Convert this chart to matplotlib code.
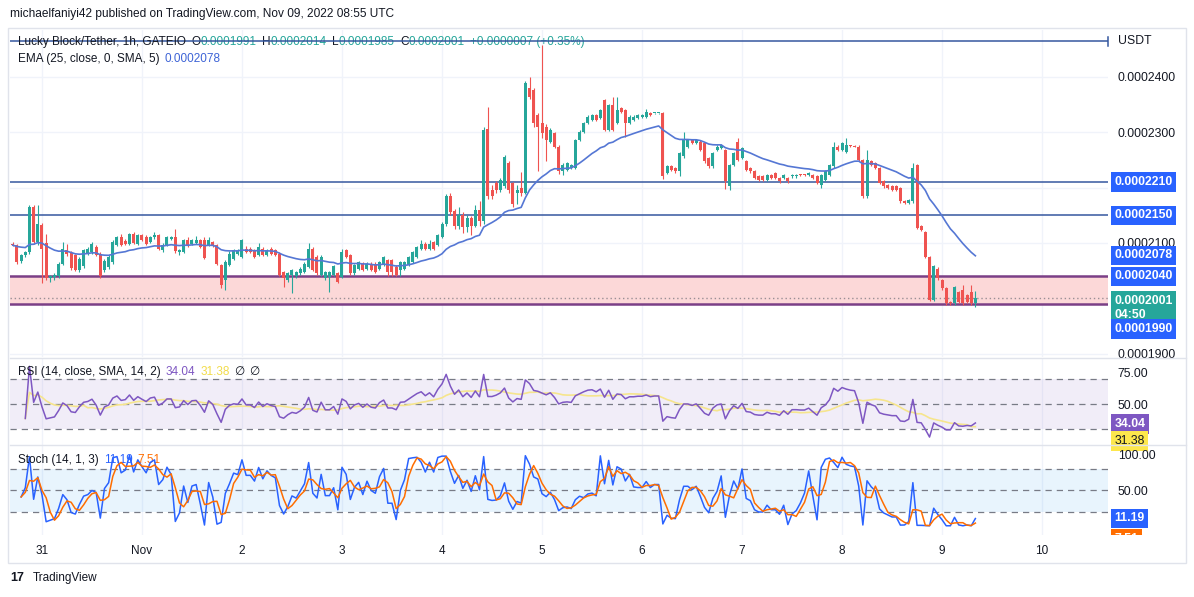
import numpy as np
import pandas as pd
import matplotlib
matplotlib.use("Agg")
import matplotlib.pyplot as plt
from matplotlib.transforms import Bbox, TransformedBbox, blended_transform_factory
from matplotlib.patches import Rectangle
from matplotlib.lines import Line2D

plt.rcParams['font.family'] = ['Liberation Sans', 'DejaVu Sans']

# ---------------- data (prices in units of 1e-7 USDT) ----------------
opens = [
    2099,2096,2068,2078,2083,2165,2102,2132,2100,2036,2038,2040,
    2063,2088,2082,2078,2052,2058,2080,2084,2093,2081,2051,2057,
    2066,2096,2111,2103,2098,2117,2099,2114,2110,2102,2110,2114,
    2087,2096,2107,2110,2083,2084,2105,2098,2100,2106,2105,2097,
    2102,2096,2060,2033,2060,2072,2080,2075,2090,2090,2087,2078,
    2090,2078,2090,2087,2081,2048,2033,2042,2040,2045,2048,2057,
    2090,2075,2042,2036,2039,2042,2045,2039,2087,2078,2045,2054,
    2063,2054,2063,2063,2054,2060,2069,2069,2057,2051,2054,2060,
    2066,2075,2090,2099,2090,2102,2096,2111,2135,2185,2158,2130,
    2150,2128,2145,2130,2160,2140,2305,2195,2208,2196,2202,2244,
    2208,2190,2200,2190,2379,2376,2331,2316,2310,2283,2298,2274,
    2229,2232,2235,2235,2286,2301,2316,2322,2331,2325,2358,2304,
    2349,2316,2343,2340,2316,2322,2325,2328,2328,2334,2334,2334,
    2334,2226,2238,2235,2229,2256,2274,2286,2280,2283,2280,2253,
    2238,2268,2271,2268,2202,2241,2283,2253,2247,2235,2229,2220,
    2220,2214,2223,2226,2217,2217,2217,2220,2220,2223,2223,2222,
    2223,2220,2205,2214,2223,2238,2274,2268,2265,2276,2275,2274,
    2250,2184,2247,2244,2235,2211,2205,2202,2202,2199,2176,2173,
    2175,2241,2130,2120,2075,1997,2054,2033,2018,1993,1991,2012,2015,2006,2012,1991,
]
highs = [
    2101,2098,2080,2086,2168,2168,2168,2136,2117,2043,2046,2066,
    2102,2098,2085,2081,2075,2090,2093,2101,2097,2083,2071,2078,
    2105,2113,2116,2108,2118,2120,2117,2116,2115,2113,2120,2116,
    2100,2112,2113,2126,2090,2108,2110,2108,2112,2108,2110,2110,
    2104,2098,2062,2070,2085,2090,2089,2108,2095,2093,2090,2100,
    2093,2089,2093,2090,2083,2050,2047,2053,2050,2056,2065,2100,
    2093,2078,2078,2050,2050,2060,2048,2090,2090,2080,2062,2068,
    2066,2065,2066,2066,2068,2077,2072,2072,2060,2067,2068,2077,
    2086,2095,2106,2101,2106,2104,2117,2137,2188,2190,2162,2165,
    2155,2150,2148,2168,2175,2310,2346,2205,2212,2218,2258,2248,
    2210,2205,2228,2392,2400,2380,2335,2457,2315,2308,2300,2276,
    2244,2246,2243,2288,2303,2318,2330,2333,2333,2342,2360,2351,
    2364,2364,2345,2342,2330,2330,2333,2333,2342,2336,2335,2335,
    2336,2240,2240,2237,2264,2301,2288,2288,2288,2285,2282,2255,
    2264,2276,2279,2270,2243,2264,2290,2273,2249,2237,2231,2222,
    2222,2225,2225,2228,2219,2225,2219,2225,2225,2224,2224,2228,
    2225,2222,2225,2231,2243,2283,2276,2282,2289,2277,2276,2276,
    2252,2268,2249,2246,2237,2213,2207,2204,2204,2201,2178,2180,
    2244,2243,2132,2122,2077,2060,2056,2035,2020,1996,2023,2014,2024,2008,2025,2014,
]
lows = [
    2094,2062,2064,2074,2080,2098,2097,2028,2034,2030,2033,2037,
    2060,2077,2052,2050,2048,2055,2078,2080,2076,2037,2048,2054,
    2063,2094,2094,2096,2096,2098,2097,2104,2097,2100,2108,2088,
    2084,2094,2105,2082,2078,2082,2092,2096,2098,2091,2072,2095,
    2093,2060,2018,2015,2058,2070,2078,2073,2082,2082,2073,2076,
    2076,2076,2079,2076,2040,2021,2030,2009,2037,2043,2046,2055,
    2049,2043,2040,2034,2012,2040,2028,2037,2073,2043,2043,2052,
    2049,2052,2049,2046,2052,2058,2040,2040,2040,2040,2052,2058,
    2064,2073,2088,2088,2088,2088,2094,2109,2130,2150,2125,2125,
    2118,2120,2115,2128,2130,2135,2180,2180,2190,2192,2200,2190,
    2165,2170,2185,2188,2360,2310,2229,2290,2247,2280,2272,2225,
    2222,2230,2233,2233,2284,2299,2314,2320,2320,2323,2302,2302,
    2302,2314,2335,2292,2314,2320,2323,2326,2326,2329,2333,2333,
    2215,2224,2230,2227,2220,2254,2272,2278,2278,2266,2245,2236,
    2236,2266,2269,2198,2195,2239,2248,2251,2230,2227,2215,2212,
    2212,2212,2215,2215,2209,2215,2209,2218,2218,2221,2221,2220,
    2215,2206,2200,2212,2221,2236,2266,2266,2263,2274,2273,2248,
    2182,2182,2239,2233,2206,2200,2197,2194,2194,2173,2171,2171,
    2173,2125,2122,2073,1995,1995,2034,2016,1989,1989,1989,1992,1989,1992,1989,1985,
]
closes = [
    2096,2066,2078,2083,2165,2102,2135,2090,2037,2040,2043,2063,
    2090,2080,2055,2052,2071,2087,2090,2098,2079,2040,2068,2075,
    2102,2111,2096,2099,2117,2100,2114,2106,2099,2111,2114,2090,
    2097,2110,2110,2085,2087,2105,2094,2105,2106,2093,2073,2105,
    2094,2062,2024,2066,2081,2087,2085,2105,2084,2084,2075,2093,
    2078,2087,2081,2078,2042,2036,2045,2051,2048,2054,2063,2090,
    2051,2045,2075,2048,2048,2058,2030,2084,2075,2045,2060,2066,
    2051,2063,2051,2048,2066,2075,2048,2048,2042,2065,2066,2075,
    2084,2093,2099,2090,2099,2090,2114,2135,2185,2155,2130,2150,
    2128,2145,2130,2160,2140,2304,2185,2185,2196,2214,2255,2196,
    2170,2195,2190,2388,2364,2316,2310,2298,2286,2304,2274,2229,
    2241,2244,2241,2286,2301,2316,2328,2331,2322,2340,2304,2349,
    2304,2340,2337,2316,2328,2328,2331,2331,2337,2331,2334,2334,
    2220,2238,2232,2229,2262,2286,2286,2280,2286,2268,2247,2238,
    2262,2274,2277,2211,2241,2262,2250,2271,2232,2229,2217,2214,
    2214,2223,2217,2217,2211,2223,2211,2223,2223,2222,2222,2226,
    2217,2208,2223,2229,2241,2274,2268,2280,2277,2275,2274,2250,
    2184,2250,2241,2235,2208,2202,2199,2196,2196,2175,2173,2178,
    2235,2127,2124,2075,1997,2058,2036,2018,1991,1991,2021,1994,1991,1994,1991,2001,
]
UNIT = 1e-7
day_labels = ["31", "Nov", "2", "3", "4", "5", "6", "7", "8", "9", "10"]
first_day_offset = 7          # hours from first candle to Oct 31 00:00
level_lines = [2464, 2210, 2150]      # drawn horizontal lines
zone = (1990, 2040)                    # support zone
last_price = 2001
ema_last = 2078
rsi_last, rsi_ma_last = 34.04, 31.38
stoch_k_last, stoch_d_last = 11.19, 7.51
price_ticks = [1900, 2000, 2100, 2200, 2300, 2400]
price_tick_shown = [1900, 2100, 2300, 2400]
header_ohlc = [("O", "0.0001991"), ("H", "0.0002014"), ("L", "0.0001985"),
               ("C", "0.0002001"), ("", "+0.0000007 (+0.35%)")]

# ---------------- derived series ----------------
O = np.array(opens) * UNIT
Hh = np.array(highs) * UNIT
Lw = np.array(lows) * UNIT
C = np.array(closes) * UNIT
t = np.arange(len(C))
cs = pd.Series(C)
ema = cs.ewm(span=25, adjust=False).mean()
delta = cs.diff()
up = delta.clip(lower=0)
dn = -delta.clip(upper=0)
rs = up.ewm(alpha=1/14, adjust=True).mean() / dn.ewm(alpha=1/14, adjust=True).mean()
rsi = 100 - 100 / (1 + rs)
rsi[:3] = np.nan
rsi_ma = rsi.rolling(14, min_periods=1).mean()
ll = pd.Series(Lw).rolling(14, min_periods=1).min()
hh = pd.Series(Hh).rolling(14, min_periods=1).max()
stk = 100 * (cs - ll) / (hh - ll)
stk[:2] = np.nan
std = stk.rolling(3, min_periods=1).mean()

# ---------------- layout ----------------
W, H = 1194, 597
fig = plt.figure(figsize=(W/100, H/100), dpi=100)
fig.patch.set_facecolor('white')

def frect(x0, y0, x1, y1):
    return [x0/W, 1 - y1/H, (x1-x0)/W, (y1-y0)/H]

PX_HR = 4.167
X0 = 12.8
xlim = ((10 - X0)/PX_HR, (1108 - X0)/PX_HR)
day_x = [first_day_offset + 24*k for k in range(len(day_labels))]

TXT = '#131722'
GRID = '#f0f3fa'
UPC, DNC = '#26a69a', '#ef5350'
FS = 8.8

def p_of_y(y):
    return (2210 - (y - 182)/0.5545) * UNIT

axm = fig.add_axes(frect(10, 30, 1108, 357))
axr = fig.add_axes(frect(10, 358, 1108, 445))
axs = fig.add_axes(frect(10, 445, 1108, 535))

for ax in (axm, axr, axs):
    ax.set_xlim(*xlim)
    for s in ax.spines.values():
        s.set_visible(False)
    ax.set_xticks(day_x)
    ax.grid(axis='x', color=GRID, lw=1)
    ax.yaxis.tick_right()
    ax.tick_params(axis='y', length=0, pad=7, labelsize=FS, labelcolor=TXT)
    ax.tick_params(axis='x', length=0)
    ax.set_axisbelow(True)
    ax.set_facecolor('none')

axm.set_xticklabels([])
axr.set_xticklabels([])
axs.set_xticklabels(day_labels)
axs.tick_params(axis='x', pad=7, labelsize=8.5, labelcolor=TXT)

# ---- main panel ----
axm.set_ylim(p_of_y(357), p_of_y(30))
axm.set_yticks([v*UNIT for v in price_ticks])
axm.set_yticklabels([f"{v*UNIT:.7f}" if v in price_tick_shown else "" for v in price_ticks])
axm.grid(axis='y', color=GRID, lw=1)

axm.axhspan(zone[0]*UNIT, zone[1]*UNIT, color='#fcd8d8', lw=0, zorder=1)
for z in zone:
    axm.axhline(z*UNIT, color='#7b3f86', lw=1.8, zorder=2)
axm.axhline(last_price*UNIT, color='#9a8f95', lw=1, ls=(0, (1, 2)), zorder=2)
for lv in level_lines:
    axm.axhline(lv*UNIT, color='#35579f', lw=1.1, zorder=2)

colors = np.where(C >= O, UPC, DNC)
axm.vlines(t, Lw, Hh, colors=colors, lw=0.8, zorder=3)
body = np.maximum(np.abs(C - O), 1.6*UNIT)
axm.bar(t, body, bottom=np.minimum(O, C), width=0.72, color=colors, lw=0, zorder=3)
axm.plot(t, ema, color='#5577d4', lw=1.2, zorder=4)

trans_m = blended_transform_factory(axm.transAxes, axm.transData)
axm.plot([1.0, 1.0], [(level_lines[0]-8)*UNIT, (level_lines[0]+8)*UNIT], color='#35579f',
         lw=1.1, transform=trans_m, clip_on=False)
axm.annotate("USDT", xy=(1.0, level_lines[0]*UNIT), xycoords=trans_m, xytext=(7, 0),
             textcoords='offset points', ha='left', va='center', fontsize=FS, color=TXT,
             annotation_clip=False)

def box(ax, val, text, fc, tc='white', dy=0, weight='bold'):
    tr = blended_transform_factory(ax.transAxes, ax.transData)
    return ax.annotate(text, xy=(1.0, val), xycoords=tr, xytext=(4.5, dy),
                       textcoords='offset points', ha='left', va='center',
                       fontsize=FS, color=tc, fontweight=weight, zorder=10,
                       annotation_clip=False,
                       bbox=dict(boxstyle='square,pad=0.3', fc=fc, ec='none'))

BLUE = '#2962ff'
box(axm, level_lines[1]*UNIT, f"{level_lines[1]*UNIT:.7f}", BLUE)
box(axm, level_lines[2]*UNIT, f"{level_lines[2]*UNIT:.7f}", BLUE)
box(axm, ema_last*UNIT, f"{ema_last*UNIT:.7f}", BLUE)
box(axm, zone[1]*UNIT, f"{zone[1]*UNIT:.7f}", BLUE)
box(axm, last_price*UNIT, f"{last_price*UNIT:.7f}\n04:50", '#26a69a', dy=-7)
box(axm, zone[0]*UNIT, f"{zone[0]*UNIT:.7f}", BLUE, dy=-18)

# ---- RSI panel ----
axr.set_ylim(50 - (445-404)/1.25, 50 + (404-358)/1.25)
axr.set_yticks([50, 75])
axr.set_yticklabels(["50.00", "75.00"])
axr.axhspan(30, 70, color='#7e57c2', alpha=0.1, lw=0)
for lv in (30, 50, 70):
    axr.axhline(lv, color='#787b86', lw=0.9, ls=(0, (5, 4)))
axr.plot(t, rsi_ma, color='#f6e58d', lw=1.2)
axr.plot(t, rsi, color='#7e57c2', lw=1.1)
box(axr, rsi_last, f"{rsi_last:.2f}", '#7e57c2')
box(axr, rsi_ma_last, f"{rsi_ma_last:.2f}", '#fde74c', tc=TXT, dy=-10, weight='normal')

# ---- Stoch panel ----
axs.set_ylim(20 - (535-512)/0.717, 80 + (469-445)/0.717)
axs.set_yticks([50, 100])
axs.set_yticklabels(["50.00", "100.00"])
axs.axhspan(20, 80, color='#2196f3', alpha=0.1, lw=0)
for lv in (20, 50, 80):
    axs.axhline(lv, color='#787b86', lw=0.9, ls=(0, (5, 4)))
axs.plot(t, stk, color='#2962ff', lw=1.1)
axs.plot(t, std, color='#ff6d00', lw=1.1)
box(axs, stoch_k_last, f"{stoch_k_last:.2f}", '#2962ff')
b = box(axs, stoch_d_last, f"{stoch_d_last:.2f}", '#ff6d00', dy=-13)
clipbb = TransformedBbox(Bbox.from_extents(0, 1 - 535/H, 1, 1), fig.transFigure)
b.set_clip_box(clipbb)
b.set_clip_on(True)

# ---- headers ----
def chain(ax, x_px, y_px, pieces, size=8.5):
    prev = None
    for s, col, gap in pieces:
        if prev is None:
            prev = fig.text(x_px/W, 1 - y_px/H, s, color=col, fontsize=size,
                            ha='left', va='center', zorder=1)
        else:
            prev = ax.annotate(s, xy=(1, 0), xycoords=prev, xytext=(gap, 0),
                               textcoords='offset points', ha='left', va='bottom',
                               color=col, fontsize=size, annotation_clip=False, zorder=1)
    return prev

pieces = [("Lucky Block/Tether, 1h, GATEIO", TXT, 0)]
for letter, val in header_ohlc:
    if letter:
        pieces.append((letter, TXT, 4))
        pieces.append((val, UPC, 0))
    else:
        pieces.append((val, UPC, 4))
chain(axm, 18, 42, pieces)
chain(axm, 18, 59, [("EMA (25, close, 0, SMA, 5)", TXT, 0),
                    (f"{ema_last*UNIT:.7f}", '#3d63d6', 3.5)])
chain(axr, 18, 372, [("RSI (14, close, SMA, 14, 2)", TXT, 0),
                     (f"{rsi_last:.2f}", '#7e57c2', 3.5),
                     (f"{rsi_ma_last:.2f}", '#f2dc4a', 3.5),
                     ("∅", TXT, 3.5), ("∅", TXT, 3.5)])
chain(axs, 18, 460, [("Stoch (14, 1, 3)", TXT, 0),
                     (f"{stoch_k_last:.2f}", '#2962ff', 3.5),
                     (f"{stoch_d_last:.2f}", '#ff6d00', 3.5)])

fig.text(10/W, 1 - 14/H, "michaelfaniyi42 published on TradingView.com, Nov 09, 2022 08:55 UTC",
         fontsize=8.6, color=TXT, ha='left', va='center')
fig.text(10/W, 1 - 578/H, "17", fontsize=9, fontweight='bold', color=TXT, ha='left', va='center')
fig.text(33/W, 1 - 578/H, "TradingView", fontsize=8.5, color=TXT, ha='left', va='center')

# frame and separators
fig.add_artist(Rectangle((8/W, 1 - 563/H), (1186-8)/W, (563-28)/H, transform=fig.transFigure,
                         fill=False, ec='#e0e3eb', lw=1))
for yy in (358, 445):
    fig.add_artist(Line2D([10/W, 1186/W], [1 - yy/H, 1 - yy/H], transform=fig.transFigure,
                          color='#e0e3eb', lw=1))

fig.savefig("out.png", dpi=100)
